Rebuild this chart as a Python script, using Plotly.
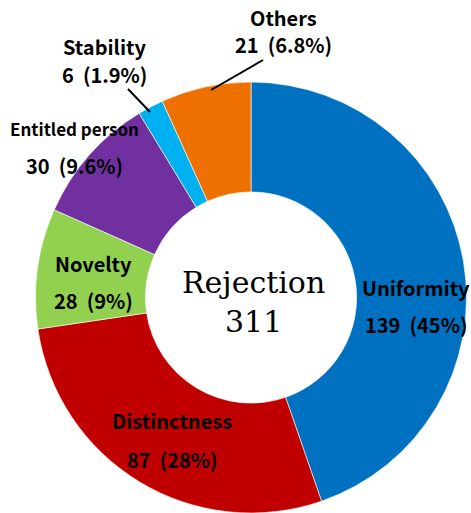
import plotly.graph_objects as go

categories = ["Uniformity", "Distinctness", "Novelty", "Entitled person", "Stability", "Others"]
values = [139, 87, 28, 30, 6, 21]
pct_labels = ["45%", "28%", "9%", "9.6%", "1.9%", "6.8%"]
colors = ["#0070C0", "#C00000", "#92D050", "#7030A0", "#00B0F0", "#EE7000"]
center_title = "Rejection"
total = sum(values)

W, H = 471, 513

fig = go.Figure()
fig.add_trace(go.Pie(
    labels=categories,
    values=values,
    sort=False,
    direction="clockwise",
    rotation=0,
    hole=0.49,
    textinfo="none",
    hoverinfo="label+value+percent",
    marker=dict(colors=colors, line=dict(color="white", width=0.6)),
    domain=dict(x=[0.0755, 0.9905], y=[0.0, 0.84]),
    showlegend=False,
))

# label placement (pixel coords in the 471x513 frame: x, name centre y, value centre y)
label_pos = {
    "Uniformity": (416, 287, 324),
    "Distinctness": (172, 420, 459),
    "Novelty": (93, 263, 300),
    "Entitled person": (74, 128, 165),
    "Stability": (104, 47, 74),
    "Others": (283, 17, 44),
}
font_main = "Noto Sans CJK KR"
anns = []
for cat, v, p in zip(categories, values, pct_labels):
    x, y1, y2 = label_pos[cat]
    size_name = 17 if cat == "Entitled person" else 20
    anns.append(dict(x=x / W, y=1 - y1 / H, xref="paper", yref="paper",
                     text=f"<b>{cat}</b>", showarrow=False,
                     font=dict(family=font_main, size=size_name, color="black"),
                     xanchor="center", yanchor="middle"))
    anns.append(dict(x=x / W, y=1 - y2 / H, xref="paper", yref="paper",
                     text=f"<b>{v}  ({p})</b>", showarrow=False,
                     font=dict(family=font_main, size=20, color="black"),
                     xanchor="center", yanchor="middle"))

anns.append(dict(x=253 / W, y=1 - 302 / H, xref="paper", yref="paper",
                 text=f"{center_title}<br>{total}", showarrow=False,
                 font=dict(family="DejaVu Serif", size=30, color="black"),
                 xanchor="center", yanchor="middle"))

shapes = [
    dict(type="line", xref="paper", yref="paper",
         x0=128 / W, y0=1 - 89 / H, x1=150 / W, y1=1 - 112 / H,
         line=dict(color="black", width=2)),
    dict(type="line", xref="paper", yref="paper",
         x0=263 / W, y0=1 - 60 / H, x1=211 / W, y1=1 - 90 / H,
         line=dict(color="black", width=2)),
]

fig.update_layout(
    width=W, height=H,
    margin=dict(l=0, r=0, t=0, b=0),
    paper_bgcolor="white", plot_bgcolor="white",
    annotations=anns, shapes=shapes,
)

fig.write_html(
    "out.html",
    config={"displayModeBar": False},
    post_script="document.body.style.margin='0';document.body.style.overflow='hidden';",
)
